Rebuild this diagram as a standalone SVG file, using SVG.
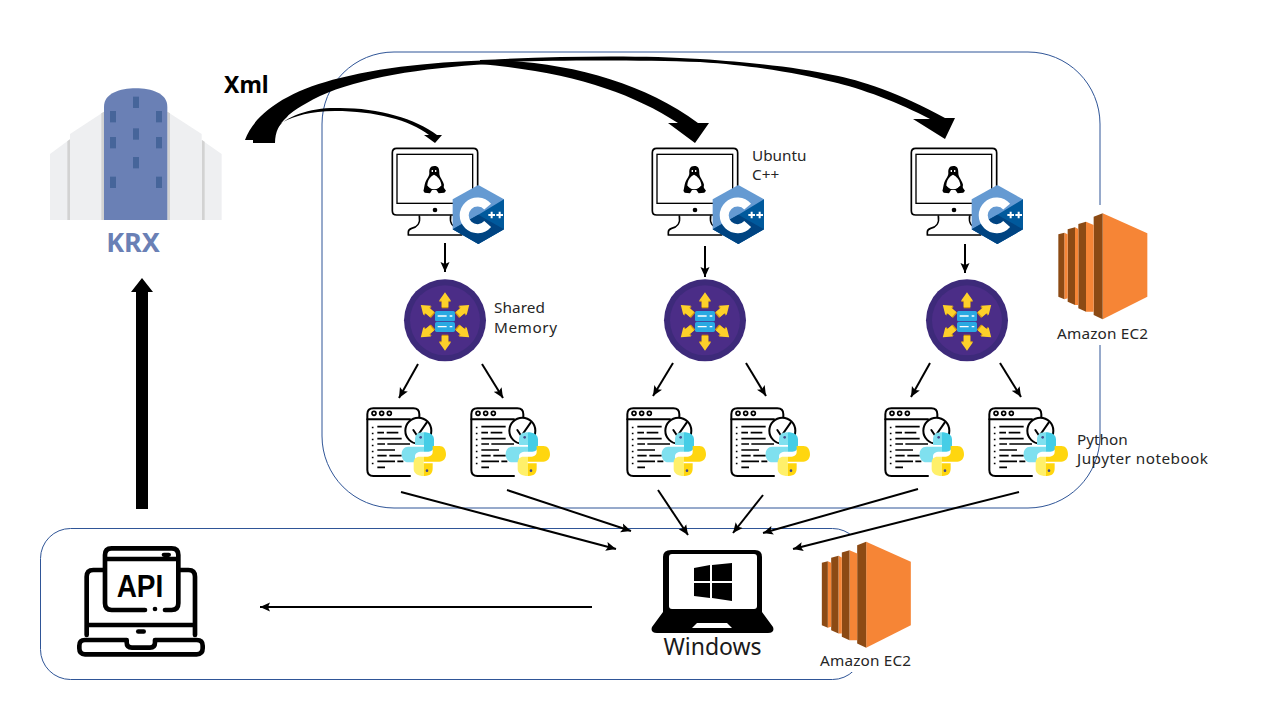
<svg xmlns="http://www.w3.org/2000/svg" xmlns:xlink="http://www.w3.org/1999/xlink" width="1280" height="720" viewBox="0 0 1280 720">
<style>
.lbl{font-family:"Noto Sans","Open Sans","Liberation Sans",sans-serif;font-size:15.3px;fill:#262626}
.frame{fill:none;stroke:#2f5597;stroke-width:1}
.ln{stroke:#000;stroke-width:2;fill:none;marker-end:url(#ah)}
.ink{fill:none;stroke:#000;stroke-linecap:round;stroke-linejoin:round}
</style>
<defs>
<marker id="ah" markerUnits="userSpaceOnUse" markerWidth="12" markerHeight="10" refX="10" refY="5" orient="auto"><path d="M0,0.5L10,5L0,9.5L2,5Z" fill="#000"/></marker>
<linearGradient id="pyb" gradientUnits="userSpaceOnUse" x1="125" x2="258" y1="0" y2="0"><stop offset=".5" stop-color="#7fe0ef"/><stop offset=".5" stop-color="#45cde6"/></linearGradient>
<linearGradient id="pyy" gradientUnits="userSpaceOnUse" x1="125" x2="258" y1="0" y2="0"><stop offset=".5" stop-color="#ffd60f"/><stop offset=".5" stop-color="#fff06a"/></linearGradient>
<g id="ec2">
<path fill="#F68536" d="M188,40L322,100V290L188,358Z"/><path fill="#8C4A14" d="M161,50L188,40V358L161,345Z"/>
<path fill="#F68536" d="M138,65L161,75V335L138,335Z"/><path fill="#8C4A14" d="M115,72L138,65V335L115,325Z"/>
<path fill="#F68536" d="M105,82L115,87V315L105,315Z"/><path fill="#8C4A14" d="M83,88L105,82V315L83,305Z"/>
<path fill="#F68536" d="M73,98L83,103V295L73,298Z"/><path fill="#8C4A14" d="M55,103L73,98V298L55,290Z"/>
</g>
<g id="mon">
<path class="ink" stroke-width="5" fill="#fff" d="M50,25H280Q293,25 293,38V212Q293,225 280,225H50Q37,225 37,212V38Q37,25 50,25Z"/>
<rect x="51" y="43" width="227" height="147" fill="#fff" stroke="#000" stroke-width="4"/>
<circle cx="165" cy="210" r="7" fill="#000"/>
<path class="ink" stroke-width="5" fill="#fff" d="M118,228C122,250 110,262 95,265Q85,268 85,276V285H245V276Q245,268 235,265C220,262 208,250 212,228"/>
<path fill="#000" d="M163,78C150,78 147,88 148,100C148,110 138,118 134,134L131,150L190,150L192,134C188,118 177,110 178,98C178,86 175,78 163,78Z"/>
<path fill="#fff" d="M162,104C152,108 142,122 142,136C146,152 178,152 184,136C184,122 172,108 162,104Z"/>
<path fill="#000" d="M130,152L140,136L156,150L150,160L134,158Z M198,152L186,136L169,150L176,160L193,158Z"/>
<path fill="#fff" d="M155,90h4v6h-4Z M165,90h4v6h-4Z"/>
<polygon fill="#659AD2" points="295,135 372,178 372,268 295,312 218,268 218,178"/>
<polygon fill="#00599C" points="218,268 295,224 372,178 372,268 295,312"/>
<polygon fill="#004482" points="295,312 218,268 295,224 340,250 372,268"/>
<path fill="none" stroke="#fff" stroke-width="27" d="M323,200A40,40 0 1 0 323,252"/>
<path fill="none" stroke="#fff" stroke-width="6" d="M325,225h20M335,215v20M349,225h20M359,215v20"/>
</g>
<g id="arw"><path fill="#d79a10" d="M150,56L168,80H160V100H140V80H132Z"/><path fill="#fdd02a" d="M150,52L168,77H160V96H140V77H132Z"/></g>
<g id="shm">
<circle cx="150" cy="136" r="123" fill="#3d2a7a"/><circle cx="150" cy="136" r="105" fill="#4b2d87"/>
<use xlink:href="#arw"/>
<use xlink:href="#arw" transform="translate(55,30) rotate(50 150 75)"/>
<use xlink:href="#arw" transform="translate(55,97) rotate(130 150 75)"/>
<use xlink:href="#arw" transform="translate(0,129) rotate(180 150 75)"/>
<use xlink:href="#arw" transform="translate(-55,97) rotate(230 150 75)"/>
<use xlink:href="#arw" transform="translate(-55,30) rotate(-50 150 75)"/>
<rect x="120" y="108" width="60" height="31" rx="5" fill="#2aa9e2"/><rect x="120" y="141" width="60" height="30" rx="5" fill="#2aa9e2"/>
<path stroke="#fff" stroke-width="4" d="M128,123H155M164,123H172M128,155H155M164,155H172"/>
</g>
<g id="scr">
<path class="ink" stroke-width="6" fill="#fff" d="M150,228H40Q22,228 22,210V43Q22,25 40,25H160Q178,25 178,43V80"/>
<path class="ink" stroke-width="6" d="M22,58H150"/>
<g fill="none" stroke="#000" stroke-width="5"><circle cx="42" cy="40" r="6"/><circle cx="65" cy="40" r="6"/><circle cx="88" cy="40" r="6"/></g>
<path stroke="#000" stroke-width="5" d="M52,80H125M52,98H72M80,98H115M52,116H125M52,132H75M82,132H150M52,150H105M52,167H80M88,167H125M52,184H105M112,184H130M52,202H75"/>
<path stroke="#000" stroke-width="5" stroke-dasharray="5 13" d="M38,80V205"/>
<circle cx="175" cy="92" r="39" fill="#fff" stroke="#000" stroke-width="6"/>
<path class="ink" stroke-width="6" d="M160,90L172,108L200,68"/>
<path fill="url(#pyb)" d="M190,97C170,97 165,107 165,120V135H192V140H145C132,140 125,150 125,162C125,177 132,187 145,187H165V170C165,160 172,155 185,155H205C215,155 222,148 222,138V118C222,105 210,97 190,97Z"/>
<path fill="url(#pyy)" transform="rotate(180 191.5 162.5)" d="M190,97C170,97 165,107 165,120V135H192V140H145C132,140 125,150 125,162C125,177 132,187 145,187H165V170C165,160 172,155 185,155H205C215,155 222,148 222,138V118C222,105 210,97 190,97Z"/>
<circle cx="182" cy="112" r="4" fill="#444a8a"/><circle cx="201" cy="212" r="4" fill="#444a8a"/>
</g>
</defs>
<rect width="1280" height="720" fill="#fff"/>
<g id="containers">
<rect class="frame" x="322" y="52" width="778" height="456" rx="72"/>
<rect class="frame" x="40.500" y="528.500" width="822" height="151" rx="30"/>
<rect x="1055" y="205" width="100" height="140" fill="#fff"/>
<rect x="815" y="535" width="100" height="137" fill="#fff"/>
</g>
<g id="connectors">
<path fill="#000" d="M245,140C255,112 290,90 340,78C400,63 470,60 540,59L490,64C420,68 360,78 320,96C300,106 290,113 287,117C279,124 275,132 275,143H253V140Z"/>
<path fill="#000" d="M275,130C285,116 310,108 335,108C375,107 415,118 437,135H442L435,143L424,135H429C410,120 375,111 335,111C310,111 295,116 283,122Z"/>
<path fill="#000" d="M480,60C560,60 640,80 698,123H709L695,143L668,123H678C630,92 570,72 480,64Z"/>
<path fill="#000" d="M480,60C560,56 640,55 700,59C760,63 800,68 833,75C860,80 900,93 945,118H955L945,139L913,119H930C900,103 860,88 833,82C800,74 760,66 700,62C640,60 560,60 500,62Z"/>
<line class="ln" x1="445" y1="243" x2="445" y2="272"/><line class="ln" x1="705" y1="246" x2="705" y2="277"/><line class="ln" x1="965" y1="244" x2="965" y2="273"/>
<line class="ln" x1="418" y1="364" x2="399" y2="398"/><line class="ln" x1="482" y1="364" x2="503" y2="398"/>
<line class="ln" x1="673" y1="363" x2="653" y2="396"/><line class="ln" x1="746" y1="363" x2="766" y2="396"/>
<line class="ln" x1="930" y1="363" x2="911" y2="397"/><line class="ln" x1="1000" y1="363" x2="1021" y2="397"/>
<line class="ln" x1="401" y1="492" x2="616" y2="549"/><line class="ln" x1="507" y1="490" x2="631" y2="531"/>
<line class="ln" x1="658" y1="490" x2="688" y2="535"/><line class="ln" x1="763" y1="495" x2="733" y2="533"/>
<line class="ln" x1="918" y1="489" x2="763" y2="533"/><line class="ln" x1="1019" y1="492" x2="793" y2="549"/>
<line class="ln" x1="592" y1="607" x2="260" y2="607"/>
<path fill="#000" d="M136,509V292H131L142,278L153,292H148V509Z"/>
</g>
<g id="krx">
<g transform="translate(30,60) scale(.33333)">
<path fill="#eeeff1" d="M60,282L120,238V480H60ZM120,222L222,155V480H120ZM412,155L515,222V480H412ZM515,240L575,282V480H515Z"/>
<path fill="#d2d2d2" d="M112,244l8,-6V480h-8ZM214,160l8,-5V480h-8ZM412,155l8,5V480h-8ZM516,240l8,5V480h-8Z"/>
<path fill="#6a80b5" d="M222,480V140C222,100 270,85 317,85C365,85 412,100 412,140V480Z"/>
<g fill="#46659a"><rect x="309" y="110" width="18" height="34"/><rect x="240" y="153" width="18" height="34"/><rect x="378" y="153" width="18" height="34"/><rect x="309" y="205" width="18" height="34"/><rect x="240" y="231" width="18" height="34"/><rect x="378" y="231" width="18" height="34"/><rect x="309" y="291" width="18" height="34"/><rect x="240" y="350" width="18" height="34"/><rect x="378" y="350" width="18" height="34"/></g>
</g>
<text x="133" y="252" text-anchor="middle" font-family="'Noto Sans','Open Sans',sans-serif" font-weight="700" font-size="27" fill="#6a80b5">KRX</text>
</g>
<text id="xml" x="224" y="93" font-family="'Noto Sans','Open Sans',sans-serif" font-weight="700" font-size="23" fill="#000">Xml</text>
<g id="monitor1"><use xlink:href="#mon" transform="translate(380,140) scale(.33333)"/></g>
<g id="monitor2"><use xlink:href="#mon" transform="translate(640,140) scale(.33333)"/><text class="lbl" x="752" y="161">Ubuntu</text><text class="lbl" x="752" y="180">C++</text></g>
<g id="monitor3"><use xlink:href="#mon" transform="translate(899,140) scale(.33333)"/></g>
<g id="shm1"><use xlink:href="#shm" transform="translate(395,275) scale(.33333)"/><text class="lbl" x="494" y="313" textLength="51">Shared</text><text class="lbl" x="494" y="333" textLength="63">Memory</text></g>
<g id="shm2"><use xlink:href="#shm" transform="translate(655,275) scale(.33333)"/></g>
<g id="shm3"><use xlink:href="#shm" transform="translate(917,275) scale(.33333)"/></g>
<g id="script1"><use xlink:href="#scr" transform="translate(360,400) scale(.33333)"/></g>
<g id="script2"><use xlink:href="#scr" transform="translate(464,400) scale(.33333)"/></g>
<g id="script3"><use xlink:href="#scr" transform="translate(620,400) scale(.33333)"/></g>
<g id="script4"><use xlink:href="#scr" transform="translate(724,400) scale(.33333)"/></g>
<g id="script5"><use xlink:href="#scr" transform="translate(878,400) scale(.33333)"/></g>
<g id="script6"><use xlink:href="#scr" transform="translate(982,400) scale(.33333)"/><text class="lbl" x="1077" y="445">Python</text><text class="lbl" x="1077" y="464" textLength="131">Jupyter notebook</text></g>
<g id="ec2a"><use xlink:href="#ec2" transform="translate(1040,200) scale(.33333)"/><text class="lbl" x="1057" y="339" textLength="91">Amazon EC2</text></g>
<g id="ec2b"><use xlink:href="#ec2" transform="translate(803.500,528.500) scale(.33333)"/><text class="lbl" x="820" y="666" textLength="91">Amazon EC2</text></g>
<g id="api"><g transform="translate(70,535) scale(.33333)">
<path class="ink" stroke-width="14" d="M105,105H70Q50,105 50,125V300M325,105H355Q375,105 375,125V300M50,270H375"/>
<rect x="105" y="40" width="220" height="186" rx="20" fill="#fff"/>
<path class="ink" stroke-width="14" d="M225,225H125Q105,225 105,205V60Q105,40 125,40H305Q325,40 325,60V205Q325,225 305,225H285M105,72H325"/>
<circle cx="255" cy="222" r="7" fill="#000"/>
<rect x="275" y="53" width="28" height="13" rx="6.500" fill="#000"/>
<rect x="198" y="283" width="30" height="13" rx="6.500" fill="#000"/>
<text x="140" y="186" textLength="140" lengthAdjust="spacingAndGlyphs" font-family="'Liberation Sans',sans-serif" font-weight="700" font-size="96" fill="#000">API</text>
<path class="ink" stroke-width="14" d="M170,315H45Q28,315 28,332V340Q28,358 45,358H380Q398,358 398,340V332Q398,315 380,315H255M170,315V322Q170,338 186,338H240Q255,338 255,322V315"/>
</g></g>
<g id="windows">
<path fill="#000" d="M671,550H755Q762,550 762,557V612L773,627Q775,633 768,633H657Q650,633 652,627L663,612V557Q663,550 671,550Z"/>
<rect x="669" y="554" width="88" height="55" rx="3" fill="#fff"/>
<path fill="#000" d="M694,568L710,565V581H694ZM712,565L732,563V581H712ZM694,583H710V598L694,596ZM712,583H732V601L712,598Z"/>
<path fill="#fff" d="M697,623H727L732,628H692Z"/>
<text x="712.500" y="655" text-anchor="middle" font-family="'Noto Sans','Open Sans',sans-serif" font-size="23" fill="#1a1a1a">Windows</text>
</g>
</svg>
